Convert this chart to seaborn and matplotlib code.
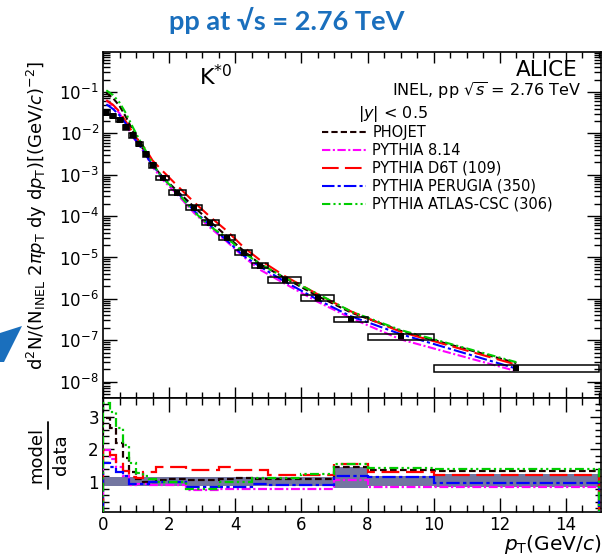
import numpy as np
import pandas as pd
import matplotlib
matplotlib.use("Agg")
import matplotlib.pyplot as plt
import seaborn as sns
from matplotlib.lines import Line2D
from matplotlib.patches import Rectangle, Polygon
from matplotlib.ticker import MultipleLocator, NullFormatter, FixedLocator, LogFormatterSciNotation

# ---------------- data ----------------
pt_edges = [0.0, 0.2, 0.4, 0.6, 0.8, 1.0, 1.2, 1.4, 1.6, 2.0, 2.5, 3.0, 3.5,
            4.0, 4.5, 5.0, 6.0, 7.0, 8.0, 10.0, 15.0]
pt_centers = [0.1, 0.3, 0.5, 0.7, 0.9, 1.1, 1.3, 1.5, 1.8, 2.25, 2.75, 3.25,
              3.75, 4.25, 4.75, 5.5, 6.5, 7.5, 9.0, 12.5]
data_yield = [0.032, 0.027, 0.021, 0.014, 0.0090, 0.0055, 0.0031, 0.0017,
              8.5e-4, 3.7e-4, 1.6e-4, 6.9e-5, 3.0e-5, 1.3e-5, 6.3e-6,
              2.9e-6, 1.05e-6, 3.2e-7, 1.23e-7, 2.1e-8]
sys_rel = [0.12, 0.12, 0.12, 0.12, 0.12, 0.12, 0.12, 0.12, 0.12, 0.14,
           0.14, 0.14, 0.14, 0.14, 0.14, 0.15, 0.15, 0.15, 0.17, 0.2]

ratio_phojet = [2.97, 2.66, 2.2, 1.75, 1.3, 1.1, 1.0, 1.0, 1.05, 1.08, 1.05,
                1.05, 1.08, 1.12, 1.1, 1.1, 1.1, 1.46, 1.37, 1.33]
ratio_py814 = [1.98, 1.72, 1.46, 1.2, 0.9, 0.95, 0.95, 0.9, 0.9, 0.9, 0.75,
               0.75, 0.8, 0.8, 0.8, 0.8, 0.8, 1.07, 0.85, 0.85]
ratio_d6t = [1.98, 1.83, 1.6, 1.35, 1.15, 1.12, 1.3, 1.3, 1.46, 1.46, 1.37,
             1.37, 1.46, 1.37, 1.37, 1.22, 1.22, 1.55, 1.3, 1.22]
ratio_perugia = [1.58, 1.45, 1.3, 1.2, 0.95, 0.95, 0.95, 1.0, 1.0, 1.0, 0.85,
                 0.85, 0.85, 0.85, 0.95, 0.9, 0.9, 1.18, 1.14, 0.98]
ratio_atlas = [3.43, 3.15, 2.66, 2.14, 1.58, 1.28, 1.2, 1.1, 1.0, 1.0, 0.8,
               0.8, 1.0, 1.0, 1.12, 1.12, 1.25, 1.55, 1.43, 1.4]

band_lo = [0.88] * 17 + [0.82, 0.88, 0.85]
band_hi = [1.16] * 17 + [1.45, 1.2, 1.25]

y_major_ticks = [1e-8, 1e-7, 1e-6, 1e-5, 1e-4, 1e-3, 1e-2, 1e-1]

model_names = ["PHOJET", "PYTHIA 8.14", "PYTHIA D6T (109)",
               "PYTHIA PERUGIA (350)", "PYTHIA ATLAS-CSC (306)"]
model_ratios = [ratio_phojet, ratio_py814, ratio_d6t, ratio_perugia, ratio_atlas]
model_colors = ["#1a0000", "#ff00ff", "#ff0000", "#0000ff", "#00cc00"]
model_dashes = [(3, 1.5), (4, 1.2, 1, 1.2), (8, 3), (6, 1.5, 1.5, 1.5),
                (4, 1.5, 1, 1.5, 1, 1.5)]

# ---------------- style ----------------
sns.set_style("ticks")
plt.rcParams["font.family"] = ["DejaVu Sans"]
plt.rcParams["mathtext.fontset"] = "dejavusans"
for k in ["text.color", "axes.labelcolor", "xtick.color", "ytick.color",
          "axes.edgecolor"]:
    plt.rcParams[k] = "black"

W, H = 615, 556
fig = plt.figure(figsize=(W / 100, H / 100), dpi=100)

def fx(px):
    return px / W

def fy(py):
    return 1 - py / H

L, R = 103, 601
ax = fig.add_axes([fx(L), fy(398), fx(R) - fx(L), fy(52) - fy(398)])
axr = fig.add_axes([fx(L), fy(512), fx(R) - fx(L), fy(398) - fy(512)], sharex=ax)

df = pd.DataFrame({"pt": pt_centers, "y": data_yield})

# model curves
for name, rat, col, dsh in zip(model_names, model_ratios, model_colors, model_dashes):
    mdf = pd.DataFrame({"pt": pt_centers,
                        "y": np.array(data_yield) * np.array(rat)})
    sns.lineplot(data=mdf, x="pt", y="y", ax=ax, color=col, lw=1.5,
                 dashes=False, legend=False, zorder=3).lines[-1].set_dashes(dsh)

# systematic boxes
for lo, hi, yv, s in zip(pt_edges[:-1], pt_edges[1:], data_yield, sys_rel):
    ax.add_patch(Rectangle((lo, yv * (1 - s)), hi - lo, yv * 2 * s,
                           fill=False, ec="black", lw=1.1, zorder=4))
sns.scatterplot(data=df, x="pt", y="y", ax=ax, marker="s", color="black",
                s=22, edgecolor="black", linewidth=0, zorder=5, legend=False)

ax.set_yscale("log")
ax.set_xlim(0, 15.06)
ax.set_ylim(4e-9, 0.93)
ax.set_xlabel("")
ax.set_ylabel("")
ax.yaxis.set_major_locator(FixedLocator(y_major_ticks))
ax.yaxis.set_major_formatter(LogFormatterSciNotation())
minor_vals = [m * t for t in [1e-9] + y_major_ticks for m in range(2, 10)]
minor_vals = [v for v in minor_vals if 4e-9 <= v <= 0.93]
ax.yaxis.set_minor_locator(FixedLocator(minor_vals))
ax.yaxis.set_minor_formatter(NullFormatter())
ax.xaxis.set_major_locator(MultipleLocator(2))
ax.xaxis.set_minor_locator(MultipleLocator(0.5))
ax.tick_params(axis="x", which="both", labelbottom=False)
ax.tick_params(which="both", direction="in", top=True, right=True,
               width=1.0, color="black")
ax.tick_params(axis="y", which="major", length=10, labelsize=12, pad=3)
ax.tick_params(axis="y", which="minor", length=5)
ax.tick_params(axis="x", which="major", length=8)
ax.tick_params(axis="x", which="minor", length=4)
for sp in ax.spines.values():
    sp.set_linewidth(1.2)
    sp.set_color("black")

# texts in the top panel
ax.text(fx(216), fy(77), r"K$^{*0}$", transform=fig.transFigure,
        fontsize=16, ha="center", va="center")
ax.text(fx(578), fy(70), "ALICE", transform=fig.transFigure,
        fontsize=15.5, ha="right", va="center")
ax.text(fx(581), fy(91), r"INEL, pp $\sqrt{s}$ = 2.76 TeV",
        transform=fig.transFigure, fontsize=11.5, ha="right", va="center")
ax.text(fx(358), fy(114), r"$|y|$ < 0.5", transform=fig.transFigure,
        fontsize=11.5, ha="left", va="center")

handles = [Line2D([0], [0], color=c, lw=1.5, dashes=d)
           for c, d in zip(model_colors, model_dashes)]
ax.legend(handles, model_names, loc="upper left",
          bbox_to_anchor=((322 - L) / (R - L), 1 - (125 - 52) / 346),
          frameon=False, fontsize=10.5, handlelength=3.0, handletextpad=0.45,
          labelspacing=0.2, borderpad=0, borderaxespad=0)

# ---------------- ratio panel ----------------
axr.stairs(band_hi, pt_edges, baseline=band_lo, fill=True,
           color="#7376a0", lw=0, zorder=1)
for rat, col, dsh in zip(model_ratios, model_colors, model_dashes):
    st = axr.stairs(rat, pt_edges, baseline=0, color=col, lw=1.6, zorder=3)
    st.set_linestyle((0, dsh))

axr.set_ylim(0.08, 3.58)
axr.set_xlim(0, 15.06)
axr.yaxis.set_major_locator(FixedLocator([1, 2, 3]))
axr.yaxis.set_minor_locator(MultipleLocator(0.2))
axr.xaxis.set_major_locator(MultipleLocator(2))
axr.xaxis.set_minor_locator(MultipleLocator(0.5))
axr.tick_params(which="both", direction="in", top=True, right=True,
                width=1.0, color="black", labelsize=12)
axr.tick_params(axis="x", which="major", length=10, pad=3)
axr.tick_params(axis="x", which="minor", length=5)
axr.tick_params(axis="y", which="major", length=8, pad=3)
axr.tick_params(axis="y", which="minor", length=4)
for sp in axr.spines.values():
    sp.set_linewidth(1.2)
    sp.set_color("black")
axr.set_xlabel("")
axr.set_ylabel("")

# axis titles
fig.text(fx(37), fy(215),
         r"d$^2$N/(N$_{\rm INEL}$ 2$\pi p_{\rm T}$ dy d$p_{\rm T}$)[(GeV/$c$)$^{-2}$]",
         rotation=90, ha="center", va="center", fontsize=13)
# model / data fraction as two rotated texts and a bar
fig.text(fx(36), fy(455), "model", rotation=90, ha="center", va="center",
         fontsize=13)
fig.text(fx(61), fy(455), "data", rotation=90, ha="center", va="center",
         fontsize=13)
fig.add_artist(Line2D([fx(48), fx(48)], [fy(422), fy(489)],
                      transform=fig.transFigure, color="black", lw=1.3))
fig.text(fx(602), fy(544), r"$p_{\rm T}$(GeV/$c$)", ha="right",
         va="center", fontsize=14.5)

# slide title and decoration
fig.text(fx(287), fy(20), "pp at √s = 2.76 TeV", ha="center", va="center",
         fontsize=19.5, fontweight="bold", color="#1a6fbd",
         family=["Lato", "Open Sans", "DejaVu Sans"])
fig.patches.append(Polygon([(fx(0), fy(333)), (fx(22), fy(326)),
                            (fx(4), fy(362)), (fx(0), fy(362))],
                           closed=True, transform=fig.transFigure,
                           color="#1a6fbd", lw=0))

fig.savefig("out.png", dpi=100)
